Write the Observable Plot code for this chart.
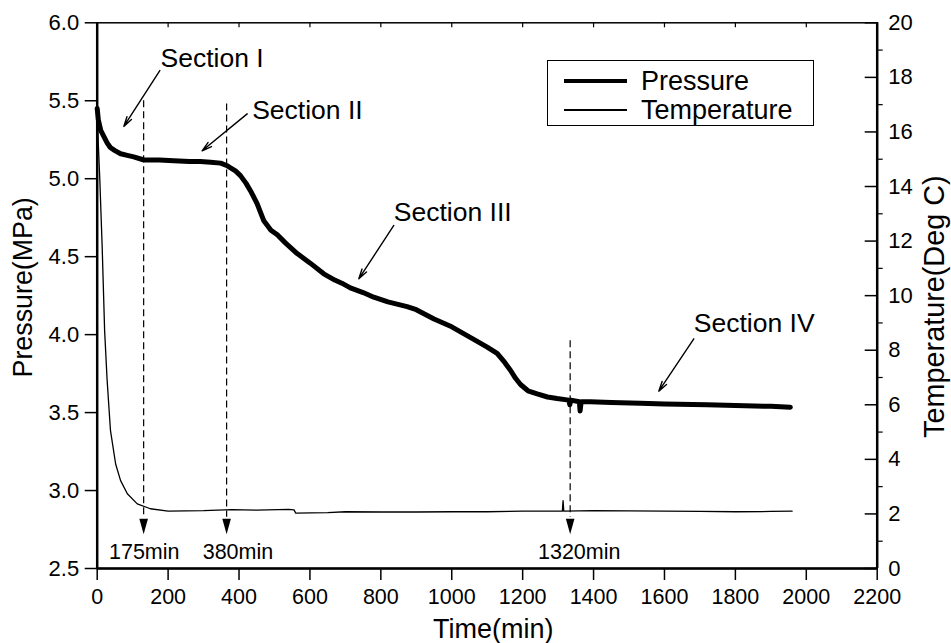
<!DOCTYPE html>
<html>
<head>
<meta charset="utf-8">
<script src="https://cdn.jsdelivr.net/npm/d3@7"></script>
<script src="https://cdn.jsdelivr.net/npm/@observablehq/plot@0.6"></script>
<style>
  body { margin: 0; background: #fff; }
  #wrap { position: relative; width: 951px; height: 643px; font-family: "Liberation Sans", Arial, sans-serif; }
  #legend { position: absolute; left: 547px; top: 60px; width: 267px; height: 66px; border: 1px solid #000; background: #fff; box-sizing: border-box; }
  #legend .row { position: absolute; left: 16px; height: 30px; display: flex; align-items: center; }
  #legend .sw { width: 63px; background: #000; margin-right: 14px; }
  #legend .lab { font-size: 27px; line-height: 30px; color: #000; }
</style>
</head>
<body>
<div id="wrap"></div>
<script>
// ---- data ----
const pTime = [0, 3, 10, 19, 28, 37, 50, 66, 85, 103, 132, 175, 216, 260, 291, 320, 348, 365, 376, 390, 404, 420, 433, 451, 470, 490, 508, 530, 564, 600, 639, 670, 690, 714, 750, 780, 820, 874, 900, 950, 1000, 1062, 1100, 1128, 1150, 1166, 1180, 1194, 1215, 1241, 1270, 1297, 1330, 1333, 1336, 1360, 1362, 1365, 1391, 1450, 1532, 1600, 1720, 1800, 1900, 1955];
const pVal  = [5.45, 5.38, 5.31, 5.27, 5.23, 5.20, 5.18, 5.16, 5.15, 5.14, 5.12, 5.12, 5.115, 5.11, 5.11, 5.105, 5.10, 5.085, 5.07, 5.05, 5.02, 4.97, 4.92, 4.84, 4.73, 4.67, 4.64, 4.59, 4.52, 4.46, 4.39, 4.35, 4.33, 4.30, 4.27, 4.24, 4.21, 4.18, 4.16, 4.10, 4.05, 3.97, 3.92, 3.88, 3.82, 3.77, 3.72, 3.68, 3.64, 3.62, 3.60, 3.59, 3.58, 3.55, 3.58, 3.57, 3.51, 3.57, 3.57, 3.565, 3.56, 3.555, 3.55, 3.545, 3.54, 3.535];

const tTime = [0, 3, 7.5, 14, 21, 28, 37.5, 52, 66, 85, 113, 150, 200, 300, 380, 450, 540, 555, 560, 650, 700, 800, 900, 1000, 1100, 1200, 1300, 1312, 1314, 1316, 1400, 1500, 1600, 1700, 1800, 1900, 1960];
const tVal  = [17.0, 15.6, 14.2, 11.8, 8.7, 6.9, 5.05, 3.83, 3.22, 2.74, 2.37, 2.19, 2.10, 2.12, 2.16, 2.14, 2.17, 2.15, 2.03, 2.05, 2.08, 2.07, 2.07, 2.08, 2.08, 2.10, 2.10, 2.10, 2.49, 2.10, 2.12, 2.11, 2.10, 2.09, 2.08, 2.09, 2.10];

const xTicks = [0, 200, 400, 600, 800, 1000, 1200, 1400, 1600, 1800, 2000, 2200];
const pTicks = [2.5, 3.0, 3.5, 4.0, 4.5, 5.0, 5.5, 6.0];
const tTicks = [0, 2, 4, 6, 8, 10, 12, 14, 16, 18, 20];
const tMinor = [1, 3, 5, 7, 9, 11, 13, 15, 17, 19];

// vertical event markers
const eventTime  = [131, 365, 1334];
const eventTop   = [5.50, 5.48, 3.96];
const eventLabel = ["175min", "380min", "1320min"];
const eventLabelTime = [132.6, 397, 1359.5];
const eventBase = 2.828, eventMark = 2.77, eventText = 2.604;

// section annotations
const secLabel = ["Section I", "Section II", "Section III", "Section IV"];
const secTextT = [178.5, 437, 836.6, 1682.7];
const secTextP = [5.774, 5.437, 4.785, 4.069];
const secTailT = [176.6, 423, 836.6, 1682.7];
const secTailP = [5.694, 5.416, 4.70, 3.973];
const secHeadT = [75.1, 296, 737.9, 1584];
const secHeadP = [5.335, 5.179, 4.358, 3.637];

// ---- mapping temperature onto the pressure scale (dual axis) ----
const xMin = 0, xMax = 2200;
const pMin = 2.5, pMax = 6.0, tMax = 20;
const toP = (t) => pMin + t * (pMax - pMin) / tMax;
const toT = (p) => (p - pMin) * tMax / (pMax - pMin);

const pressureRows = pTime.map((t, i) => ({t, p: pVal[i]}));
const tempRows = tTime.map((t, i) => ({t, p: toP(tVal[i])}));
const events = eventTime.map((t, i) => ({t, top: eventTop[i], label: eventLabel[i], lt: eventLabelTime[i]}));
const sections = secLabel.map((s, i) => ({s, tx: secTextT[i], ty: secTextP[i], x1: secTailT[i], y1: secTailP[i], x2: secHeadT[i], y2: secHeadP[i]}));

const W = 951, H = 643, ML = 96.7, MR = 74.3, MT = 22.3, MB = 75;

const downTri = {
  draw(ctx) {
    const w = 4.3, h = 15.5;
    ctx.moveTo(-w, -h / 2);
    ctx.lineTo(w, -h / 2);
    ctx.lineTo(0, h / 2);
    ctx.closePath();
  }
};
const noText = () => "";

const chart = Plot.plot({
  width: W,
  height: H,
  marginLeft: ML,
  marginRight: MR,
  marginTop: MT,
  marginBottom: MB,
  x: {domain: [xMin, xMax], axis: null},
  y: {domain: [pMin, pMax], axis: null},
  style: {fontFamily: "'Liberation Sans', Arial, sans-serif", background: "white", color: "black", overflow: "visible"},
  marks: [
    // data lines
    Plot.line(tempRows, {x: "t", y: "p", stroke: "black", strokeWidth: 1.3}),
    Plot.line(pressureRows, {x: "t", y: "p", stroke: "black", strokeWidth: 5, strokeLinejoin: "round", strokeLinecap: "round"}),
    // event markers
    Plot.ruleX(events, {x: "t", y1: "top", y2: eventBase, stroke: "black", strokeWidth: 1.2, strokeDasharray: "7,4"}),
    Plot.dot(events, {x: "t", y: eventMark, symbol: downTri, fill: "black", stroke: null}),
    Plot.text(events, {x: "lt", y: eventText, text: "label", fontSize: 21.5, fill: "black", lineAnchor: "middle"}),
    // section annotations
    Plot.arrow(sections, {x1: "x1", y1: "y1", x2: "x2", y2: "y2", stroke: "black", strokeWidth: 1.4, headLength: 11, headAngle: 30}),
    Plot.text(sections, {x: "tx", y: "ty", text: "s", textAnchor: "start", lineAnchor: "middle", fontSize: 26.5, fill: "black"}),
    // frame and thick axis lines
    Plot.frame({stroke: "black", strokeWidth: 1.5}),
    Plot.ruleX([xMin, xMax], {stroke: "black", strokeWidth: 2.5}),
    Plot.ruleY([pMin], {stroke: "black", strokeWidth: 2.5}),
    // bottom axis
    Plot.axisX({ticks: xTicks, tickSize: 12, tickPadding: 8, tickFormat: (d) => String(d), fontSize: 21.5, label: null, strokeWidth: 1.5}),
    // top inward minor ticks: a bottom-facing axis placed at the top edge
    Plot.axisX({anchor: "bottom", y: pMax, ticks: xTicks, tickSize: 5, tickFormat: noText, label: null, strokeWidth: 1.2}),
    // left axis
    Plot.axisY({ticks: pTicks, tickSize: 12, tickPadding: 6, tickFormat: d3.format(".1f"), fontSize: 22, label: null, strokeWidth: 1.5}),
    // right axis (temperature): labels, inward major ticks, outward minor ticks
    Plot.axisY({anchor: "right", ticks: tTicks.map(toP), tickSize: 0, tickPadding: 11, tickFormat: (p) => String(Math.round(toT(p))), fontSize: 22, label: null}),
    Plot.axisY({anchor: "left", x: xMax, ticks: tTicks.map(toP), tickSize: 12, tickFormat: noText, label: null, strokeWidth: 1.5}),
    Plot.axisY({anchor: "right", ticks: tMinor.map(toP), tickSize: 5, tickFormat: noText, label: null, strokeWidth: 1.2}),
    // axis titles
    Plot.text(["Time(min)"], {frameAnchor: "bottom", dx: 6, dy: 61, textAnchor: "middle", lineAnchor: "middle", fontSize: 27, fill: "black"}),
    Plot.text(["Pressure(MPa)"], {frameAnchor: "left", dx: -73.7, dy: -8.3, rotate: -90, textAnchor: "middle", lineAnchor: "middle", fontSize: 26.8, fill: "black"}),
    Plot.text(["Temperature(Deg C)"], {frameAnchor: "right", dx: 58, dy: 11, rotate: -90, textAnchor: "middle", lineAnchor: "middle", fontSize: 28.8, fill: "black"})
  ]
});

const wrap = document.getElementById("wrap");
wrap.appendChild(chart);

// legend (inside the plot area, as in the reference)
const legend = document.createElement("div");
legend.id = "legend";
const items = [
  {name: "Pressure", w: 4.5, top: 5},
  {name: "Temperature", w: 1.3, top: 34}
];
for (const it of items) {
  const row = document.createElement("div");
  row.className = "row";
  row.style.top = it.top + "px";
  const sw = document.createElement("div");
  sw.className = "sw";
  sw.style.height = it.w + "px";
  const lab = document.createElement("span");
  lab.className = "lab";
  lab.textContent = it.name;
  row.appendChild(sw);
  row.appendChild(lab);
  legend.appendChild(row);
}
wrap.appendChild(legend);
</script>
</body>
</html>
